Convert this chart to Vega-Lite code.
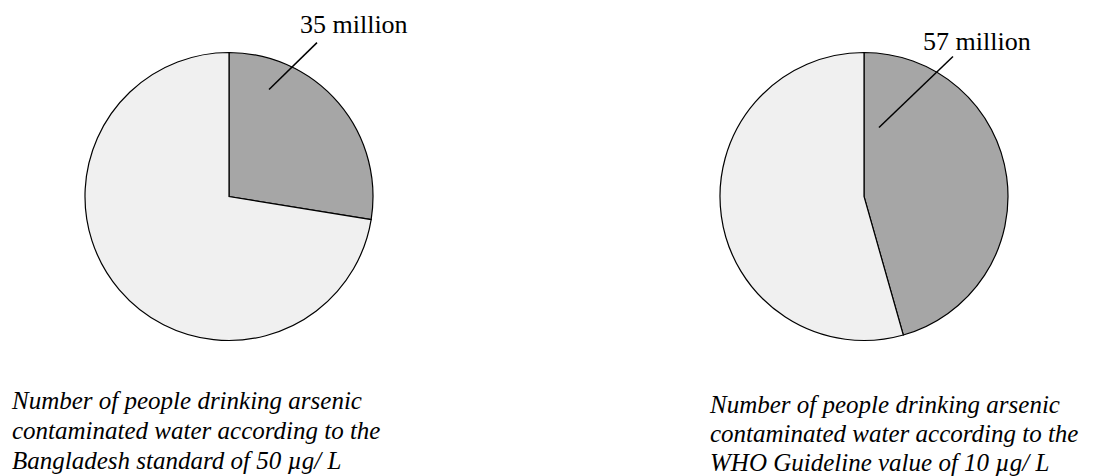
{
  "$schema": "https://vega.github.io/schema/vega-lite/v6.json",
  "padding": 0,
  "spacing": 171,
  "background": "white",
  "config": {"view": {"stroke": null}},
  "datasets": {
    "bd": [{"group": "Exposed", "people": 35}, {"group": "Not exposed", "people": 92}],
    "who": [{"group": "Exposed", "people": 57}, {"group": "Not exposed", "people": 68}],
    "bdNote": [{"x1": 0.278, "y1": 0.743, "x2": 0.611, "y2": 1.069, "lx": 0.493, "ly": 1.135, "label": "35 million"}],
    "whoNote": [{"x1": 0.104, "y1": 0.479, "x2": 0.618, "y2": 0.972, "lx": 0.41, "ly": 1.021, "label": "57 million"}]
  },
  "hconcat": [
    {
      "width": 458,
      "height": 393,
      "title": {
        "text": ["Number of people drinking arsenic", "contaminated water according to the", "Bangladesh standard of 50 µg/ L"],
        "orient": "bottom", "anchor": "start", "dx": 12, "offset": -4,
        "font": "Liberation Serif", "fontStyle": "italic", "fontWeight": "normal", "fontSize": 25, "lineHeight": 30, "color": "black"
      },
      "layer": [
        {
          "data": {"name": "bd"},
          "mark": {"type": "arc", "radius": 144, "stroke": "black", "strokeWidth": 1.2},
          "encoding": {
            "theta": {"field": "people", "type": "quantitative", "stack": true},
            "color": {"field": "group", "type": "nominal", "scale": {"domain": ["Exposed", "Not exposed"], "range": ["#a6a6a6", "#f0f0f0"]}, "legend": null},
            "order": {"field": "group", "sort": "ascending"}
          }
        },
        {
          "data": {"name": "bdNote"},
          "mark": {"type": "rule", "color": "black", "strokeWidth": 1.5},
          "encoding": {
            "x": {"field": "x1", "type": "quantitative", "scale": {"domain": [-1.590, 1.590], "nice": false, "zero": false}, "axis": null},
            "y": {"field": "y1", "type": "quantitative", "scale": {"domain": [-1.365, 1.365], "nice": false, "zero": false}, "axis": null},
            "x2": {"field": "x2"},
            "y2": {"field": "y2"}
          }
        },
        {
          "data": {"name": "bdNote"},
          "mark": {"type": "text", "align": "left", "baseline": "alphabetic", "font": "Liberation Serif", "fontSize": 26, "color": "black"},
          "encoding": {
            "x": {"field": "lx", "type": "quantitative", "scale": {"domain": [-1.590, 1.590], "nice": false, "zero": false}, "axis": null},
            "y": {"field": "ly", "type": "quantitative", "scale": {"domain": [-1.365, 1.365], "nice": false, "zero": false}, "axis": null},
            "text": {"field": "label"}
          }
        }
      ]
    },
    {
      "width": 470,
      "height": 393,
      "title": {
        "text": ["Number of people drinking arsenic", "contaminated water according to the", "WHO Guideline value of 10 µg/ L"],
        "orient": "bottom", "anchor": "start", "dx": 81, "offset": 0,
        "font": "Liberation Serif", "fontStyle": "italic", "fontWeight": "normal", "fontSize": 25, "lineHeight": 29, "color": "black"
      },
      "layer": [
        {
          "data": {"name": "who"},
          "mark": {"type": "arc", "radius": 144, "stroke": "black", "strokeWidth": 1.2},
          "encoding": {
            "theta": {"field": "people", "type": "quantitative", "stack": true},
            "color": {"field": "group", "type": "nominal", "scale": {"domain": ["Exposed", "Not exposed"], "range": ["#a6a6a6", "#f0f0f0"]}, "legend": null},
            "order": {"field": "group", "sort": "ascending"}
          }
        },
        {
          "data": {"name": "whoNote"},
          "mark": {"type": "rule", "color": "black", "strokeWidth": 1.5},
          "encoding": {
            "x": {"field": "x1", "type": "quantitative", "scale": {"domain": [-1.632, 1.632], "nice": false, "zero": false}, "axis": null},
            "y": {"field": "y1", "type": "quantitative", "scale": {"domain": [-1.365, 1.365], "nice": false, "zero": false}, "axis": null},
            "x2": {"field": "x2"},
            "y2": {"field": "y2"}
          }
        },
        {
          "data": {"name": "whoNote"},
          "mark": {"type": "text", "align": "left", "baseline": "alphabetic", "font": "Liberation Serif", "fontSize": 26, "color": "black"},
          "encoding": {
            "x": {"field": "lx", "type": "quantitative", "scale": {"domain": [-1.632, 1.632], "nice": false, "zero": false}, "axis": null},
            "y": {"field": "ly", "type": "quantitative", "scale": {"domain": [-1.365, 1.365], "nice": false, "zero": false}, "axis": null},
            "text": {"field": "label"}
          }
        }
      ]
    }
  ],
  "resolve": {"scale": {"color": "independent"}}
}
